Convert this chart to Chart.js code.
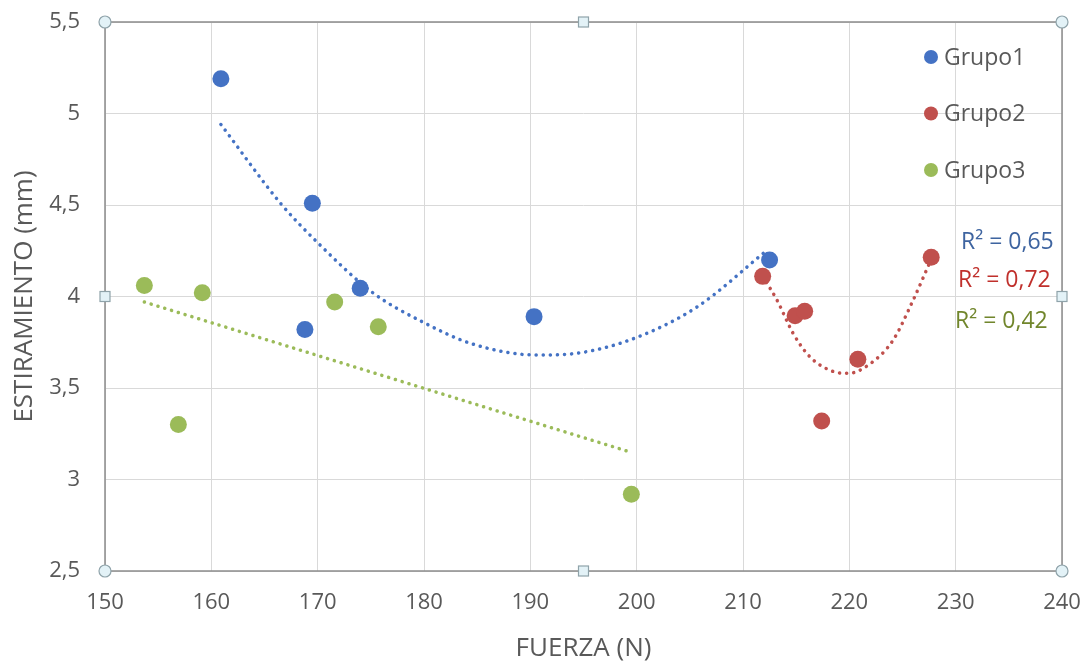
<!DOCTYPE html>
<html>
<head>
<meta charset="utf-8">
<script src="https://cdn.jsdelivr.net/npm/chart.js@4.4.1/dist/chart.umd.min.js"></script>
<style>
    html, body { margin: 0; padding: 0; background: #fff; }
    #wrap { width: 1086px; height: 664px; }
</style>
</head>
<body>
<div id="wrap"><canvas id="chart"></canvas></div>
<script>
/* Data */
const GRUPO1_X = [160.9, 169.5, 168.8, 174.0, 190.35, 212.5];
const GRUPO1_Y = [5.19, 4.51, 3.82, 4.045, 3.89, 4.20];

const GRUPO2_X = [211.85, 214.9, 215.8, 217.4, 220.8, 227.7];
const GRUPO2_Y = [4.11, 3.895, 3.92, 3.32, 3.657, 4.214];

const GRUPO3_X = [153.7, 156.9, 159.15, 171.6, 175.7, 199.5];
const GRUPO3_Y = [4.06, 3.30, 4.02, 3.97, 3.835, 2.92];

// trendlines as traced on the picture
const TREND1_X = [160.9, 166.5, 169.9, 175.2, 179.9, 184.6, 190.6, 194.4, 199.7, 205.6, 212.2];
const TREND1_Y = [4.94, 4.51, 4.30, 4.02, 3.86, 3.74, 3.68, 3.69, 3.77, 3.94, 4.25];

const TREND2_X = [211.85, 213.2, 214.7, 216.3, 218.5, 219.9, 221.9, 224.1, 226.0, 227.6];
const TREND2_Y = [4.11, 3.98, 3.80, 3.67, 3.59, 3.58, 3.63, 3.76, 3.98, 4.19];

const TREND3_X = [153.7, 199.4];
const TREND3_Y = [3.97, 3.15];

const SERIES_LABELS = ['Grupo1', 'Grupo2', 'Grupo3'];
const R2_LABELS = ['R² = 0,65', 'R² = 0,72', 'R² = 0,42'];

const COLORS = ['#4472c4', '#c0504d', '#9bbb59'];
const R2_COLORS = ['#3e64a0', '#c0302c', '#71862c'];

const FONT = "'Open Sans', 'Noto Sans', sans-serif";
const TEXT_GRAY = '#595959';

const pts = (xs, ys) => xs.map((x, i) => ({ x, y: ys[i] }));

function scatterSet(label, xs, ys, color) {
    return {
        label,
        data: pts(xs, ys),
        backgroundColor: color,
        borderColor: color,
        pointRadius: 8.5,
        pointBorderWidth: 0,
        showLine: false,
        order: 1,
    };
}

function trendSet(xs, ys, color) {
    return {
        label: '',
        data: pts(xs, ys),
        borderColor: color,
        borderWidth: 3.5,
        borderDash: [0.1, 7],
        borderCapStyle: 'round',
        pointRadius: 0,
        showLine: true,
        cubicInterpolationMode: 'monotone',
        fill: false,
        order: 2,
    };
}

/* Legend, R² labels, plot frame and selection handles */
const overlayPlugin = {
    id: 'overlay',
    afterDraw(chart) {
        const { ctx, chartArea: a } = chart;
        ctx.save();

        // frame
        ctx.strokeStyle = '#8c8c8c';
        ctx.lineWidth = 1.5;
        ctx.strokeRect(a.left, a.top, a.right - a.left, a.bottom - a.top);

        // legend
        ctx.font = `23px ${FONT}`;
        ctx.textBaseline = 'middle';
        ctx.textAlign = 'left';
        SERIES_LABELS.forEach((lbl, i) => {
            const y = 57 + i * 56.5;
            ctx.fillStyle = COLORS[i];
            ctx.beginPath();
            ctx.arc(931, y, 7, 0, Math.PI * 2);
            ctx.fill();
            ctx.fillStyle = TEXT_GRAY;
            ctx.fillText(lbl, 944, y + 1);
        });

        // R² labels
        ctx.font = `23px ${FONT}`;
        const r2Y = [242, 280, 321];
        const r2X = [961, 958, 955];
        R2_LABELS.forEach((t, i) => {
            ctx.fillStyle = R2_COLORS[i];
            ctx.fillText(t, r2X[i], r2Y[i]);
        });

        // handles
        ctx.fillStyle = '#e3f2f7';
        ctx.strokeStyle = '#8fa3aa';
        ctx.lineWidth = 1.2;
        const midX = (a.left + a.right) / 2;
        const midY = (a.top + a.bottom) / 2;
        [[a.left, a.top], [a.right, a.top], [a.left, a.bottom], [a.right, a.bottom]].forEach(([x, y]) => {
            ctx.beginPath();
            ctx.arc(x, y, 6, 0, Math.PI * 2);
            ctx.fill();
            ctx.stroke();
        });
        [[midX, a.top], [midX, a.bottom], [a.left, midY], [a.right, midY]].forEach(([x, y]) => {
            ctx.fillRect(x - 5, y - 5, 10, 10);
            ctx.strokeRect(x - 5, y - 5, 10, 10);
        });
        ctx.restore();
    },
};

const ctx = document.getElementById('chart').getContext('2d');
new Chart(ctx, {
    type: 'scatter',
    data: {
        datasets: [
            scatterSet(SERIES_LABELS[0], GRUPO1_X, GRUPO1_Y, COLORS[0]),
            scatterSet(SERIES_LABELS[1], GRUPO2_X, GRUPO2_Y, COLORS[1]),
            scatterSet(SERIES_LABELS[2], GRUPO3_X, GRUPO3_Y, COLORS[2]),
            trendSet(TREND1_X, TREND1_Y, COLORS[0]),
            trendSet(TREND2_X, TREND2_Y, COLORS[1]),
            trendSet(TREND3_X, TREND3_Y, COLORS[2]),
        ],
    },
    options: {
        responsive: true,
        maintainAspectRatio: false,
        animation: false,
        layout: { padding: { top: 22, right: 24, left: 0, bottom: 0 } },
        plugins: {
            legend: { display: false },
            tooltip: { enabled: false },
        },
        scales: {
            x: {
                type: 'linear',
                min: 150,
                max: 240,
                ticks: { stepSize: 10, color: TEXT_GRAY, font: { family: FONT, size: 22 }, padding: 19 },
                grid: { color: '#d9d9d9', lineWidth: 1, drawTicks: false },
                border: { display: false },
                title: { display: true, text: 'FUERZA (N)', color: TEXT_GRAY, font: { family: FONT, size: 26 }, padding: { top: 0, bottom: 0 } },
                afterFit(scale) {
                    scale.height = 93;
                    scale.paddingLeft = 0;
                    scale.paddingRight = 0;
                },
            },
            y: {
                type: 'linear',
                min: 2.5,
                max: 5.5,
                ticks: {
                    stepSize: 0.5,
                    color: TEXT_GRAY,
                    font: { family: FONT, size: 22 },
                    padding: 25,
                    callback: v => String(v).replace('.', ','),
                },
                grid: { color: '#d9d9d9', lineWidth: 1, drawTicks: false },
                border: { display: false },
                title: { display: true, text: 'ESTIRAMIENTO (mm)', color: TEXT_GRAY, font: { family: FONT, size: 26 }, padding: { top: 9, bottom: 0 } },
                afterFit(scale) {
                    scale.width = 105;
                    scale.paddingTop = 0;
                    scale.paddingBottom = 0;
                },
            },
        },
    },
    plugins: [overlayPlugin],
});
</script>
</body>
</html>
